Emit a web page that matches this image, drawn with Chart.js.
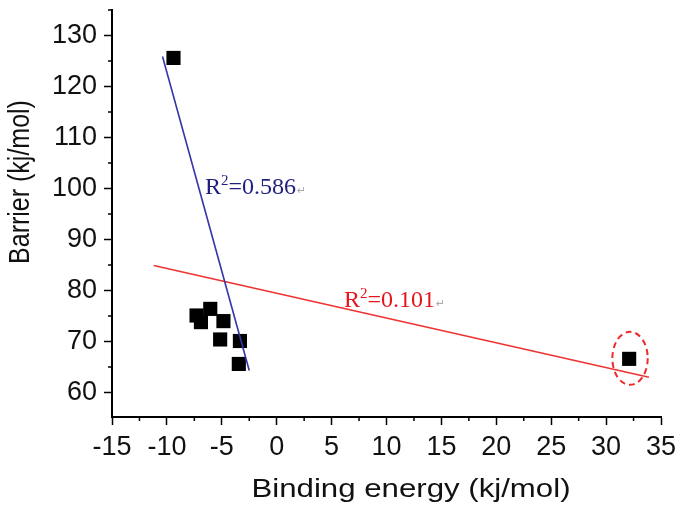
<!DOCTYPE html>
<html>
<head>
<meta charset="utf-8">
<script src="https://cdn.jsdelivr.net/npm/chart.js@4.4.1/dist/chart.umd.min.js"></script>
<style>
    html, body { margin: 0; padding: 0; background: #fff; }
    #wrap { width: 685px; height: 513px; }
</style>
</head>
<body>
<div id="wrap"><canvas id="chart" width="685" height="513"></canvas></div>
<script>
    // points: binding energy (x) vs barrier (y)
    var bindingEnergy = [-9.4, -7.3, -6.05, -6.9, -4.85, -5.15, -3.35, -3.45, 32.1];
    var barrier = [125.6, 75.1, 76.4, 73.8, 74.0, 70.4, 70.1, 65.6, 66.6];

    // the two fitted lines (end points)
    var blueFitX = [-10.4, -2.5];
    var blueFitY = [125.9, 64.3];
    var redFitX = [-11.2, 33.9];
    var redFitY = [84.9, 63.0];

    var xTicks = [-15, -10, -5, 0, 5, 10, 15, 20, 25, 30, 35];
    var yTicks = [60, 70, 80, 90, 100, 110, 120, 130];

    var toXY = function (xs, ys) {
        return xs.map(function (x, i) { return { x: x, y: ys[i] }; });
    };

    var sansFont = "'Liberation Sans', Arial, sans-serif";
    var serifFont = "'Liberation Serif', 'Times New Roman', serif";

    // minor ticks, axis titles, R² notes and the dashed ring round the outlier
    var extras = {
        id: 'extras',
        afterDraw: function (chart) {
            var ctx = chart.ctx;
            var xs = chart.scales.x, ys = chart.scales.y;
            var area = chart.chartArea;
            ctx.save();

            ctx.strokeStyle = '#000';
            ctx.lineWidth = 1.5;
            ctx.beginPath();
            for (var i = 0; i < xTicks.length - 1; i++) {
                var px = xs.getPixelForValue((xTicks[i] + xTicks[i + 1]) / 2);
                ctx.moveTo(px, area.bottom);
                ctx.lineTo(px, area.bottom + 4);
            }
            for (var v = 55; v <= 135; v += 10) {
                if (v < ys.min || v > ys.max) continue;
                var py = ys.getPixelForValue(v);
                ctx.moveTo(area.left, py);
                ctx.lineTo(area.left - 4, py);
            }
            ctx.stroke();

            // dashed ellipse
            var cx = xs.getPixelForValue(32.18), cy = ys.getPixelForValue(66.7);
            var rx = xs.getPixelForValue(32.18 + 1.61) - cx;
            var ry = cy - ys.getPixelForValue(66.7 + 5.2);
            ctx.setLineDash([6, 4]);
            ctx.strokeStyle = '#ee2a2a';
            ctx.lineWidth = 2;
            ctx.beginPath();
            ctx.ellipse(cx, cy, rx, ry, 0, 0, Math.PI * 2);
            ctx.stroke();
            ctx.setLineDash([]);

            // R² notes
            var note = function (x, y, value, color) {
                var left = xs.getPixelForValue(x), base = ys.getPixelForValue(y);
                ctx.fillStyle = color;
                ctx.textAlign = 'left';
                ctx.textBaseline = 'alphabetic';
                ctx.font = '24px ' + serifFont;
                ctx.fillText('R', left, base);
                left += ctx.measureText('R').width;
                ctx.font = '15px ' + serifFont;
                ctx.fillText('2', left, base - 9);
                left += ctx.measureText('2').width;
                ctx.font = '24px ' + serifFont;
                ctx.fillText('=' + value, left, base);
                left += ctx.measureText('=' + value).width;
                ctx.fillStyle = '#aaa';
                ctx.font = "11px 'DejaVu Sans'";
                ctx.fillText('\u21b5', left + 1, base);
            };
            note(-6.53, 98.9, '0.586', '#1e1e7e');
            note(6.13, 76.7, '0.101', '#e8141c');

            // axis titles (the figure's lettering is a bit wide, hence the scale)
            ctx.fillStyle = '#111';
            ctx.font = '26px ' + sansFont;
            ctx.textAlign = 'center';
            ctx.textBaseline = 'alphabetic';
            ctx.save();
            ctx.translate(411, 497);
            ctx.scale(1.2, 1);
            ctx.fillText('Binding energy (kj/mol)', 0, 0);
            ctx.restore();

            ctx.save();
            ctx.translate(21, 182);
            ctx.scale(1.18, 1);
            ctx.rotate(-Math.PI / 2);
            ctx.textBaseline = 'middle';
            ctx.font = '25px ' + sansFont;
            ctx.fillText('Barrier (kj/mol)', 0, 0);
            ctx.restore();

            ctx.restore();
        }
    };

    new Chart("chart", {
        type: "scatter",
        data: {
            datasets: [{
                data: toXY(blueFitX, blueFitY),
                showLine: true,
                borderColor: '#3535a5',
                borderWidth: 1.6,
                pointRadius: 0
            }, {
                data: toXY(redFitX, redFitY),
                showLine: true,
                borderColor: '#f03232',
                borderWidth: 1.6,
                pointRadius: 0
            }, {
                data: toXY(bindingEnergy, barrier),
                pointStyle: 'rect',
                pointRadius: 10,
                pointBorderWidth: 0,
                backgroundColor: '#000',
                borderColor: '#000'
            }]
        },
        options: {
            responsive: false,
            animation: false,
            devicePixelRatio: 1,
            layout: { padding: { top: 7, right: 24, bottom: 0, left: 0 } },
            plugins: {
                legend: { display: false },
                tooltip: { enabled: false },
                title: { display: false }
            },
            scales: {
                x: {
                    type: 'linear',
                    min: -15,
                    max: 35,
                    afterBuildTicks: function (s) { s.ticks = xTicks.map(function (v) { return { value: v }; }); },
                    afterFit: function (s) { s.height = 96; s.paddingLeft = 0; s.paddingRight = 0; },
                    border: { display: true, color: '#000', width: 2 },
                    grid: { display: true, drawOnChartArea: false, tickLength: 8, tickColor: '#000', tickWidth: 1.5 },
                    ticks: { color: '#111', font: { family: sansFont, size: 27 }, padding: 6, maxRotation: 0, autoSkip: false }
                },
                y: {
                    type: 'linear',
                    min: 55.2,
                    max: 135,
                    afterBuildTicks: function (s) { s.ticks = yTicks.map(function (v) { return { value: v }; }); },
                    afterFit: function (s) { s.width = 112; s.paddingTop = 0; s.paddingBottom = 0; },
                    border: { display: true, color: '#000', width: 2 },
                    grid: { display: true, drawOnChartArea: false, tickLength: 8, tickColor: '#000', tickWidth: 1.5 },
                    ticks: { color: '#111', font: { family: sansFont, size: 27 }, padding: 7 }
                }
            }
        },
        plugins: [extras]
    });
</script>
</body>
</html>
